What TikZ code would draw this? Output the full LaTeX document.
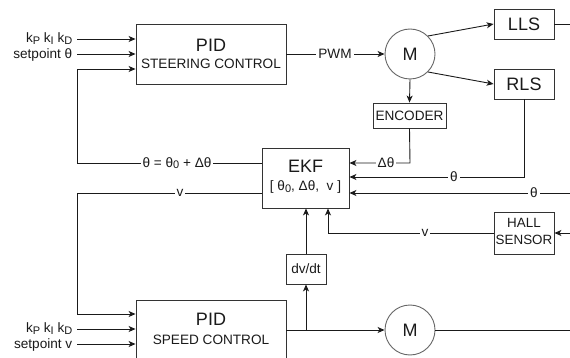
\documentclass[tikz,border=0pt]{standalone}
\usepackage{fontspec}
\setmainfont{Liberation Sans}
\usetikzlibrary{arrows.meta,shadows}
\definecolor{txt}{HTML}{1A1A1A}
\definecolor{ln}{HTML}{1A1A1A}
\definecolor{bx}{HTML}{333333}
\definecolor{cir}{HTML}{666666}
\newcommand{\sbs}[1]{\raisebox{-0.2ex}{\fontsize{11}{11}\selectfont #1}}
\begin{document}
\begin{tikzpicture}[x=1pt,y=-1pt,
  blk/.style={draw=bx,line width=0.9pt,inner sep=0pt,fill=white},
  mot/.style={draw=cir,circle,line width=0.9pt,minimum size=50pt,inner sep=0pt,fill=white,text=txt,font=\fontsize{18}{18}\selectfont},
  big/.style={font=\fontsize{18}{18}\selectfont,text=txt,inner sep=0pt,anchor=base},
  small/.style={font=\fontsize{13.6}{13.6}\selectfont,text=txt,inner sep=0pt,anchor=base},
  lab/.style={font=\fontsize{13.6}{13.6}\selectfont,text=txt,fill=white,inner sep=2pt},
  inl/.style={font=\fontsize{13.6}{13.6}\selectfont,text=txt,anchor=east,inner sep=0.5pt},
  wire/.style={draw=ln,line width=0.9pt},
  arr/.style={wire,-{Stealth[length=7pt,width=6pt,inset=2pt]}},
]
\useasboundingbox (0,0) rectangle (570,358);
\clip (0,0) rectangle (570,358);

% blocks
\node[blk,minimum width=150pt,minimum height=60pt] (pids) at (211,54) {};
\node[big] (pidsA) at (211,52) {PID};
\node[small] (pidsB) at (211,69) {STEERING CONTROL};

\node[blk,minimum width=150pt,minimum height=60pt] (pidv) at (211,330) {};
\node[big] (pidvA) at (211,325.5) {PID};
\node[small] (pidvB) at (211,344) {SPEED CONTROL};

\node[mot] (m1) at (410,54) {M};
\node[mot] (m2) at (410,330) {M};

\node[blk,minimum width=60pt,minimum height=30pt,font=\fontsize{18}{18}\selectfont,text=txt] (lls) at (524,24) {LLS};
\node[blk,minimum width=60pt,minimum height=30pt,font=\fontsize{18}{18}\selectfont,text=txt] (rls) at (524,84) {RLS};
\node[blk,minimum width=73pt,minimum height=25pt,font=\fontsize{13.6}{13.6}\selectfont,text=txt] (enc) at (409.5,115.5) {ENCODER};

\node[blk,minimum width=87pt,minimum height=60pt,drop shadow={shadow xshift=1.2pt,shadow yshift=-1.2pt,opacity=0.35}] (ekf) at (305.5,178) {};
\node[big] (ekfA) at (305.5,173) {EKF};
\node[small] (ekfB) at (305.5,191) {[ θ\sbs{0}, Δθ,\ \ v ]};

\node[blk,minimum width=60pt,minimum height=42pt] (hall) at (524,233) {};
\node[small,font=\fontsize{13.4}{13.4}\selectfont] (hallA) at (524,227) {HALL};
\node[small,font=\fontsize{13.4}{13.4}\selectfont] (hallB) at (524,244) {SENSOR};

\node[blk,minimum width=40pt,minimum height=30pt,font=\fontsize{13.6}{13.6}\selectfont,text=txt] (dvdt) at (306,269) {dv/dt};

% coordinates
\coordinate (sIn1) at (77,39);
\coordinate (sIn2) at (77,54);
\coordinate (fbTop) at (77,69);
\coordinate (fbBot) at (77,163);
\coordinate (vTop) at (77,193);
\coordinate (vBot) at (77,314);
\coordinate (vIn1) at (77,329);
\coordinate (vIn2) at (77,344);
\coordinate (encC) at (410,163);
\coordinate (rlsC) at (524,177);
\coordinate (eTh) at (570,193);
\coordinate (eHall) at (570,233);
\coordinate (hallC) at (328,233);
\coordinate (eLls) at (570,24);
\coordinate (eM2) at (570,330);
\coordinate (tap) at (306,330);

% steering inputs
\draw[arr] (sIn1) -- (pids.west |- sIn1);
\node[inl] (lk1) at (73,38.5) {k\sbs{P} k\sbs{I} k\sbs{D}};
\draw[arr] (sIn2) -- (pids.west |- sIn2);
\node[inl] (ls1) at (73,54.5) {setpoint θ};

% theta feedback
\draw[arr] (ekf.west |- fbBot) -- (fbBot) -- (fbTop) -- (pids.west |- fbTop);
\node[lab] (lth) at (177,163) {θ = θ\sbs{0} + Δθ};

% PWM
\draw[arr] (pids.east |- m1) -- (m1.west);
\node[lab] (lpwm) at (335,54) {PWM};

% motor to sensors
\draw[arr] (m1.45) -- (lls.west);
\draw[arr] (m1.-45) -- (rls.west);
\draw[arr] (m1.south) -- (enc.north);
\draw[wire] (lls.east) -- (eLls);

% encoder to EKF
\draw[arr] (enc.south) -- (encC) -- (ekf.east |- encC);
\node[lab] (ldth) at (386,163) {Δθ};

% RLS to EKF
\draw[arr] (rls.south) -- (rlsC) -- (ekf.east |- rlsC);
\node[lab] (lth2) at (454,177) {θ};

% theta from right
\draw[arr] (eTh) -- (ekf.east |- eTh);
\node[lab] (lth3) at (534,193) {θ};

% hall sensor
\draw[arr] (eHall) -- (hall.east);
\draw[arr] (hall.west) -- (hallC) -- (ekf.south -| hallC);
\node[lab] (lv2) at (425,233) {v};

% dv/dt
\draw[arr] (dvdt.north) -- (ekf.south -| dvdt.north);
\draw[arr] (tap) -- (dvdt.south);

% speed loop
\draw[arr] (pidv.east) -- (m2.west);
\draw[wire] (m2.east) -- (eM2);
\draw[arr] (ekf.west |- vTop) -- (vTop) -- (vBot) -- (pidv.west |- vBot);
\node[lab] (lv1) at (180,193) {v};

% speed inputs
\draw[arr] (vIn1) -- (pidv.west |- vIn1);
\node[inl] (lk2) at (73,328.5) {k\sbs{P} k\sbs{I} k\sbs{D}};
\draw[arr] (vIn2) -- (pidv.west |- vIn2);
\node[inl] (ls2) at (73,344.5) {setpoint v};
\end{tikzpicture}
\end{document}
